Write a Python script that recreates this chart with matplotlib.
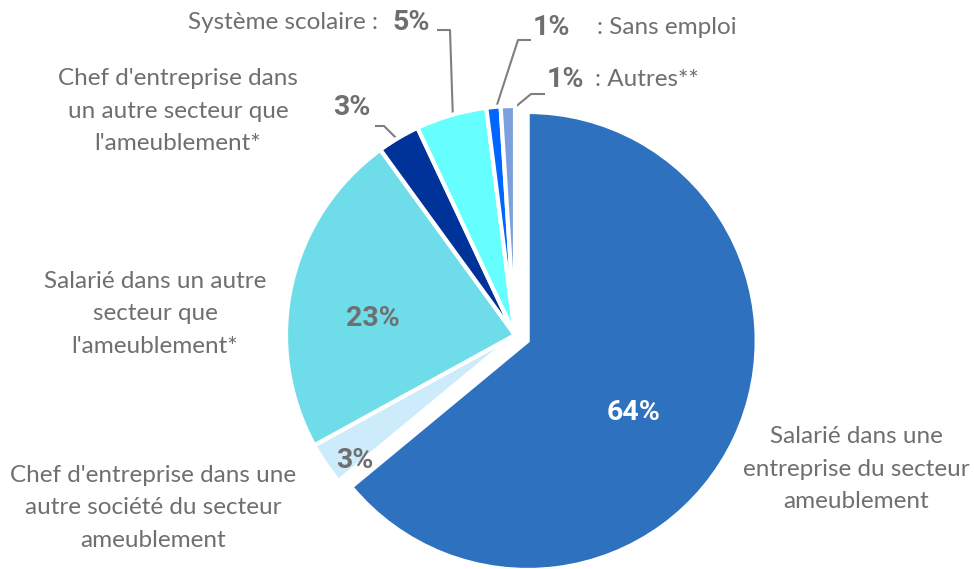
import numpy as np
import matplotlib
matplotlib.use("Agg")
import matplotlib.pyplot as plt

# ---- data ----
categories = [
    "Salarié dans une\nentreprise du secteur\nameublement",
    "Chef d'entreprise dans une\nautre société du secteur\nameublement",
    "Salarié dans un autre\nsecteur que\nl'ameublement*",
    "Chef d'entreprise dans\nun autre secteur que\nl'ameublement*",
    "Système scolaire :",
    ": Sans emploi",
    ": Autres**",
]
values = [64, 3, 23, 3, 5, 1, 1]
pct_labels = ["64%", "3%", "23%", "3%", "5%", "1%", "1%"]
colors = ["#2E71BF", "#CCECFC", "#6FDCEA", "#003399", "#66FFFF", "#0066FF", "#7BA0DD"]

W, H = 974, 569
fig = plt.figure(figsize=(W / 100, H / 100), dpi=100)
ax = fig.add_axes([0, 0, 1, 1])

def Y(y):
    return H - y

FONT = "Lato"
BFONT = "Roboto"
GREY = "#6F6F6F"
LINE = "#7F7F7F"

cx, cy, R = 515, 335, 229
wedges, _ = ax.pie(values, colors=colors, startangle=90, counterclock=False,
                   center=(cx, Y(cy)), radius=R,
                   explode=[14, 0, 0, 0, 0, 0, 0],
                   wedgeprops=dict(edgecolor="white", linewidth=3),
                   frame=True)
ax.set_xlim(0, W)
ax.set_ylim(0, H)
ax.set_aspect("equal")
ax.axis("off")

def anchor(w, frac=0.97):
    mid = np.deg2rad((w.theta1 + w.theta2) / 2)
    x0, y0 = w.center
    return x0 + frac * w.r * np.cos(mid), y0 + frac * w.r * np.sin(mid)

lab_fs = 17.5
pct_fs = 20.5

def txt(x, y, s, ha="center", bold=False, color=GREY):
    ax.text(x, Y(y), s, ha=ha, va="center",
            family=BFONT if bold else FONT,
            fontsize=pct_fs if bold else lab_fs,
            fontweight="bold" if bold else "normal", color=color,
            linespacing=1.7)

# category labels
txt(856, 469, categories[0])
txt(153, 508, categories[1])
txt(155, 314, categories[2])
txt(178, 111, categories[3])
txt(378, 22, categories[4], ha="right")
txt(597, 27, categories[5], ha="left")
txt(595, 79, categories[6], ha="left")

# percentage labels
txt(634, 413, pct_labels[0], bold=True, color="white")
txt(355, 461, pct_labels[1], bold=True)
txt(373, 318, pct_labels[2], bold=True)
txt(371, 107, pct_labels[3], ha="right", bold=True)
txt(393, 22, pct_labels[4], ha="left", bold=True)
txt(533, 27, pct_labels[5], ha="left", bold=True)
txt(547, 79, pct_labels[6], ha="left", bold=True)

# leader lines: (label end, elbow) in pixels
leaders = {
    3: [(375, 126), (384, 126)],
    4: [(437, 30), (450, 30)],
    5: [(531, 40), (518, 40)],
    6: [(545, 94), (531, 94)],
}
for i, pts in leaders.items():
    ax_, ay_ = anchor(wedges[i])
    xs = [p[0] for p in pts] + [ax_]
    ys = [Y(p[1]) for p in pts] + [ay_]
    ax.plot(xs, ys, color=LINE, lw=1.5, solid_capstyle="butt", zorder=0.5)

fig.savefig("out.png", dpi=100)
